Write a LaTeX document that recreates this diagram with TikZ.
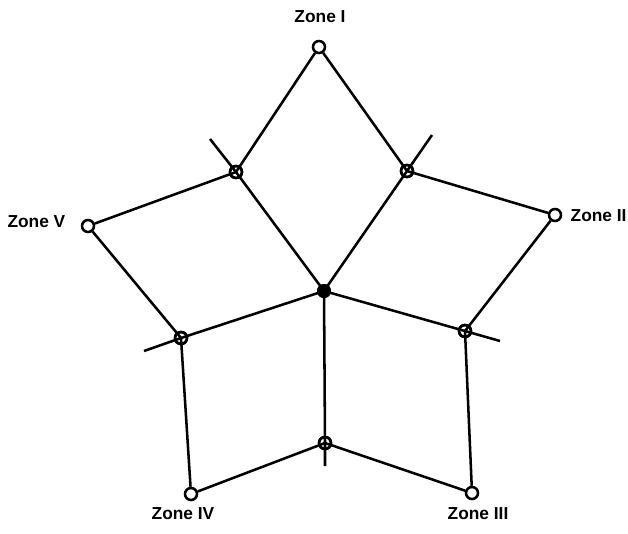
\documentclass[tikz,border=0pt]{standalone}
\usepackage{fontspec}
\setmainfont{Liberation Sans}
\begin{document}
\begin{tikzpicture}[x=0.75pt,y=-0.75pt,
  ln/.style={line width=1.9pt},
  zone/.style={circle,draw,line width=1.9pt,fill=white,inner sep=0pt,minimum size=9pt},
  mid/.style={circle,draw,line width=1.9pt,inner sep=0pt,minimum size=9pt},
  hub/.style={circle,fill=black,inner sep=0pt,minimum size=10.5pt},
  lab/.style={font=\fontsize{13}{15}\selectfont\bfseries}]
\useasboundingbox (0,0) rectangle (628,533);
% nodes
\node[hub] (c) at (324,291) {};
\node[mid] (m15) at (236,172) {};
\node[mid] (m12) at (407,171) {};
\node[mid] (m23) at (465,331) {};
\node[mid] (m34) at (325,443) {};
\node[mid] (m45) at (181,338) {};
\coordinate (e15) at (210,139);
\coordinate (e12) at (432,135);
\coordinate (e23) at (500,341);
\coordinate (e34) at (325,466);
\coordinate (e45) at (144,351);
% spokes with extensions
\draw[ln] (c.center) -- (m15.center) -- (e15);
\draw[ln] (c.center) -- (m12.center) -- (e12);
\draw[ln] (c.center) -- (m23.center) -- (e23);
\draw[ln] (c.center) -- (m34.center) -- (e34);
\draw[ln] (c.center) -- (m45.center) -- (e45);
% zone nodes
\node[zone] (z1) at (319,47) {};
\node[zone] (z2) at (555,215) {};
\node[zone] (z3) at (472,493) {};
\node[zone] (z4) at (191,494) {};
\node[zone] (z5) at (88,226) {};
% rim
\draw[ln] (z1) -- (m15.center) -- (z5);
\draw[ln] (z1) -- (m12.center) -- (z2);
\draw[ln] (z2) -- (m23.center) -- (z3);
\draw[ln] (z3) -- (m34.center) -- (z4);
\draw[ln] (z4) -- (m45.center) -- (z5);
% redraw circles on top
\node[mid] at (m15) {};
\node[mid] at (m12) {};
\node[mid] at (m23) {};
\node[mid] at (m34) {};
\node[mid] at (m45) {};
\node[hub] at (c) {};
% labels
\node[lab] (l1) at (320,17) {Zone I};
\node[lab,anchor=east] (l5) at (70,222) {Zone V};
\node[lab,anchor=west] (l2) at (566,216) {Zone II};
\node[lab] (l4) at (183,514) {Zone IV};
\node[lab] (l3) at (478,514) {Zone III};
\end{tikzpicture}
\end{document}
